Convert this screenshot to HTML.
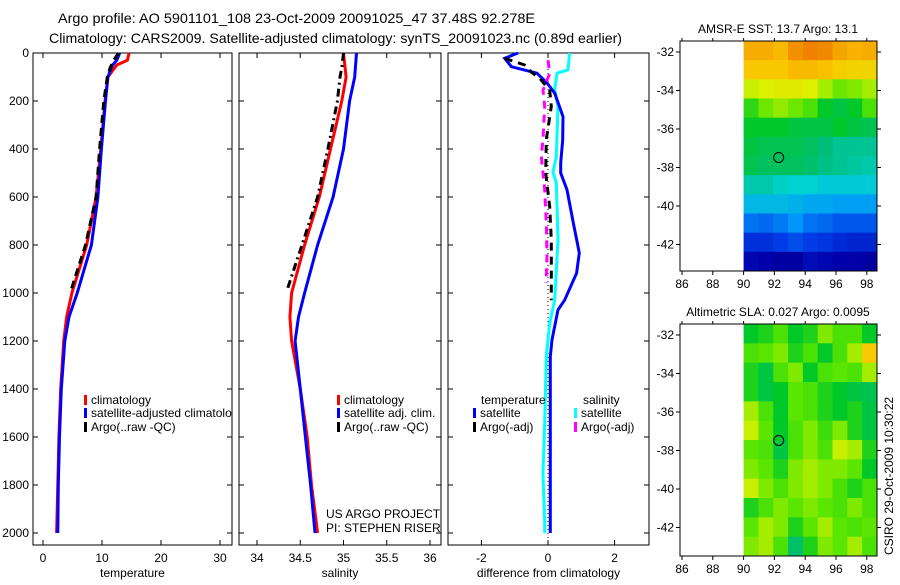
<!DOCTYPE html>
<html><head><meta charset="utf-8">
<style>
body{margin:0;background:#fff;width:900px;height:580px;overflow:hidden}
svg{font-family:"Liberation Sans",sans-serif;font-size:12px}
</style></head><body>
<svg id="fig" width="900" height="580" viewBox="0 0 900 580" xmlns="http://www.w3.org/2000/svg">
<text x="58" y="23" font-size="14" textLength="477" lengthAdjust="spacingAndGlyphs">Argo profile: AO 5901101_108 23-Oct-2009 20091025_47 37.48S 92.278E</text>
<text x="49" y="43" font-size="14" textLength="573" lengthAdjust="spacingAndGlyphs">Climatology: CARS2009. Satellite-adjusted climatology: synTS_20091023.nc (0.89d earlier)</text>
<g id="g"></g>
<text x="326" y="518">US ARGO PROJECT</text>
<text x="326" y="532">PI: STEPHEN RISER</text>
<text transform="translate(893,555) rotate(-90)">CSIRO 29-Oct-2009 10:30:22</text>
</svg>
<script>
// ---- profile data ----
const tDepth=[0,30,50,100,200,400,600,800,1000,1100,1200,1400,1600,1800,2000];
const tClim=[14.6,14.3,12.5,11.0,10.5,9.8,9.0,7.4,4.9,4.0,3.5,3.0,2.7,2.5,2.3];
const tSat=[13.0,12.5,11.8,11.0,10.6,9.9,9.3,8.2,5.8,4.4,3.7,3.1,2.8,2.6,2.5];
const tArgoDepth=[0,30,60,100,200,400,600,800,985];
const tArgo=[12.8,12.0,11.4,10.9,10.3,9.6,9.0,7.2,4.8];
const sDepth=[0,100,200,400,600,800,1000,1100,1200,1400,1600,1800,2000];
const sClim=[35.0,35.03,34.98,34.85,34.72,34.55,34.4,34.38,34.4,34.5,34.58,34.63,34.7];
const sSat=[35.15,35.13,35.07,35.0,34.88,34.7,34.55,34.48,34.44,34.5,34.56,34.62,34.67];
const sArgoDepth=[0,60,100,200,400,600,800,985];
const sArgo=[35.0,34.98,34.96,34.93,34.82,34.7,34.52,34.35];
const dTDepth=[0,22,57,84,125,167,265,362,458,500,570,708,833,917,1030,1070,1195,1265,1600,2000];
const dTSat=[-0.9,-1.3,-1.1,-0.33,-0.03,0.2,0.45,0.44,0.38,0.38,0.57,0.76,0.94,0.86,0.5,0.3,0.12,0.07,0.07,0.07];
const dSDepth=[0,70,84,154,222,433,495,542,778,1030,1125,1265,1540,1750,1960,2000];
const dSSat=[0.65,0.6,0.27,0.2,0.3,0.25,0.15,0.25,0.3,0.2,0.05,-0.05,-0.1,-0.15,-0.1,-0.1];
const dTArgoDepth=[22,50,80,105,155,222,360,500,640,780,920,1030];
const dTArgo=[-1.3,-0.7,-0.5,-0.25,0.05,0.1,-0.05,-0.07,0.05,0.1,0.1,0.1];
const dSArgoDepth=[30,85,155,222,360,430,570,708,847,958];
const dSArgo=[0,0.05,-0.15,-0.1,-0.15,-0.2,-0.1,-0.05,-0.03,-0.06];
const depthTicks=[0,200,400,600,800,1000,1200,1400,1600,1800,2000];
const tTicks=[0,10,20,30];
const sTicks=[34,34.5,35,35.5,36];
const dTicks=[-2,0,2];
// ---- map data (colormap position 0..1) ----
const lonTicks=[86,88,90,92,94,96,98];
const latTicks=[-32,-34,-36,-38,-40,-42];
const sstGrid=[
[0.74,0.74,0.72,0.78,0.80,0.79,0.75,0.73,0.74],
[0.70,0.70,0.70,0.72,0.72,0.71,0.69,0.68,0.68],
[0.62,0.63,0.64,0.64,0.63,0.60,0.57,0.58,0.60],
[0.53,0.57,0.59,0.57,0.55,0.50,0.48,0.50,0.55],
[0.50,0.50,0.50,0.48,0.48,0.48,0.50,0.48,0.47],
[0.48,0.47,0.47,0.47,0.46,0.44,0.42,0.42,0.42],
[0.47,0.46,0.46,0.46,0.45,0.43,0.42,0.41,0.40],
[0.40,0.40,0.38,0.37,0.37,0.36,0.36,0.36,0.36],
[0.34,0.34,0.34,0.33,0.32,0.32,0.31,0.31,0.31],
[0.26,0.25,0.27,0.30,0.26,0.25,0.23,0.23,0.23],
[0.18,0.18,0.20,0.22,0.20,0.19,0.17,0.16,0.16],
[0.11,0.10,0.08,0.08,0.12,0.11,0.10,0.10,0.08]];
const slaGrid=[
[0.50,0.52,0.55,0.50,0.52,0.58,0.55,0.55,0.50],
[0.55,0.56,0.58,0.52,0.55,0.50,0.55,0.60,0.70],
[0.52,0.48,0.55,0.58,0.50,0.55,0.56,0.55,0.60],
[0.52,0.48,0.50,0.56,0.55,0.52,0.50,0.48,0.47],
[0.60,0.55,0.50,0.56,0.55,0.52,0.50,0.52,0.48],
[0.62,0.56,0.50,0.55,0.58,0.54,0.58,0.52,0.48],
[0.56,0.55,0.48,0.55,0.58,0.55,0.62,0.60,0.52],
[0.58,0.56,0.52,0.58,0.60,0.58,0.58,0.56,0.50],
[0.62,0.58,0.55,0.58,0.60,0.58,0.55,0.52,0.55],
[0.52,0.55,0.58,0.56,0.58,0.56,0.55,0.58,0.55],
[0.56,0.60,0.58,0.52,0.56,0.60,0.56,0.55,0.56],
[0.58,0.60,0.55,0.45,0.52,0.58,0.56,0.60,0.55]];

const NS='http://www.w3.org/2000/svg';
const G=document.getElementById('g');
function mk(tag,attrs,parent){const e=document.createElementNS(NS,tag);for(const k in attrs)e.setAttribute(k,attrs[k]);(parent||G).appendChild(e);return e;}
const yDepth=d=>53+0.24*d;
const cmStops=[[0,0,0,120],[0.1,0,0,170],[0.2,0,60,230],[0.3,0,150,250],[0.37,0,210,210],[0.44,0,190,120],[0.5,0,200,40],[0.56,90,230,0],[0.63,220,240,0],[0.7,250,200,0],[0.8,240,130,0],[1,200,40,0]];
function cmap(v){v=Math.max(0,Math.min(1,v));
  for(let i=1;i<cmStops.length;i++){const a=cmStops[i-1],b=cmStops[i];
    if(v<=b[0]){const f=(v-a[0])/(b[0]-a[0]);return `rgb(${Math.round(a[1]+f*(b[1]-a[1]))},${Math.round(a[2]+f*(b[2]-a[2]))},${Math.round(a[3]+f*(b[3]-a[3]))})`;}}
  return 'rgb(200,40,0)';}

function panel(name,x0,x1,xs,ticks,label,yLabels){
  const r=mk('rect',{x:x0,y:53,width:x1-x0,height:492,fill:'none',stroke:'#000','stroke-width':1});
  
  
  ticks.forEach(t=>{const x=xs(t);
    const l1=mk('line',{x1:x,x2:x,y1:545,y2:540,stroke:'#000'});
    
    
    mk('line',{x1:x,x2:x,y1:53,y2:58,stroke:'#000'});
    const tx=mk('text',{x:x,y:562,'text-anchor':'middle'});tx.textContent=t;
    
    });
  depthTicks.forEach(d=>{const y=yDepth(d);
    const l=mk('line',{x1:x0,x2:x0+5,y1:y,y2:y,stroke:'#000'});
    
    
    mk('line',{x1:x1,x2:x1-5,y1:y,y2:y,stroke:'#000'});
    if(yLabels){const t=mk('text',{x:x0-4,y:y+4,'text-anchor':'end'});t.textContent=d;
      
      }});
  const lb=mk('text',{x:(x0+x1)/2,y:577,'text-anchor':'middle'});lb.textContent=label;
  
  
}
function line(name,depths,vals,xs,color,dash){
  const p=depths.map((d,i)=>(i?'L':'M')+xs(vals[i]).toFixed(1)+','+yDepth(d).toFixed(1)).join('');
  const a={d:p,fill:'none',stroke:color,'stroke-width':3};if(dash)a['stroke-dasharray']=dash;
  const e=mk('path',a);
  
  
}
function legend(name,x,y,color,text){
  const r=mk('rect',{x:x,y:y-9,width:3,height:10,fill:color});
  
  
  const t=mk('text',{x:x+7,y:y});t.textContent=text;
  
  
}
// panel 1 temperature
const xT=v=>43+5.9*v;
panel('temperature-panel',33,232,xT,tTicks,'temperature',true);
line('temp-climatology-line',tDepth,tClim,xT,'#f00');
line('temp-satellite-line',tDepth,tSat,xT,'#00f');
line('temp-argo-line',tArgoDepth,tArgo,xT,'#000','8,5');
legend('legend-climatology',84,404,'#f00','climatology');
legend('legend-satellite-adjusted',84,417,'#00f','satellite-adjusted climatolo');
legend('legend-argo-raw',84,431,'#000','Argo(..raw -QC)');
// panel 2 salinity
const xS=v=>257+86.5*(v-34);
panel('salinity-panel',239,441,xS,sTicks,'salinity',false);
line('sal-climatology-line',sDepth,sClim,xS,'#f00');
line('sal-satellite-line',sDepth,sSat,xS,'#00f');
line('sal-argo-line',sArgoDepth,sArgo,xS,'#000','8,4,2,4');
legend('legend-sal-climatology',337,404,'#f00','climatology');
legend('legend-sal-satellite',337,417,'#00f','satellite adj. clim.');
legend('legend-sal-argo',337,431,'#000','Argo(..raw -QC)');
// panel 3 differences
const xD=v=>548+33.3*v;
panel('difference-panel',448,649,xD,dTicks,'difference from climatology',false);
const z=mk('line',{x1:xD(0),x2:xD(0),y1:53,y2:545,stroke:'#000','stroke-dasharray':'1,3'});


line('diff-sal-satellite-line',dSDepth,dSSat,xD,'#0ff');
line('diff-temp-satellite-line',dTDepth,dTSat,xD,'#00f');
line('diff-temp-argo-line',dTArgoDepth,dTArgo,xD,'#000','8,6');
line('diff-sal-argo-line',dSArgoDepth,dSArgo,xD,'#f0f','8,6');
const th=mk('text',{x:481,y:404});th.textContent='temperature';


const sh=mk('text',{x:583,y:404});sh.textContent='salinity';


legend('legend-diff-temp-satellite',473,417,'#00f','satellite');
legend('legend-diff-temp-argo',473,431,'#000','Argo(-adj)');
legend('legend-diff-sal-satellite',574,417,'#0ff','satellite');
legend('legend-diff-sal-argo',574,431,'#f0f','Argo(-adj)');

// maps
function map(name,top,bottom,lat32y,grid,title){
  const xs=l=>682+15.4*(l-86), ys=l=>lat32y+19.25*(-32-l);
  const rows=grid.length, cols=grid[0].length, x0=xs(90), x1=877, cw=(x1-x0)/cols, ch=(bottom-top)/rows;
  grid.forEach((row,i)=>row.forEach((v,j)=>{
    const c=mk('rect',{x:(x0+j*cw).toFixed(2),y:(top+i*ch).toFixed(2),width:(cw+0.5).toFixed(2),height:(ch+0.5).toFixed(2),fill:cmap(v)});
    
    }));
  const f=mk('rect',{x:680,y:top,width:197,height:bottom-top,fill:'none',stroke:'#000'});
  
  
  lonTicks.forEach(l=>{const x=xs(l);mk('line',{x1:x,x2:x,y1:bottom,y2:bottom+4,stroke:'#000'});mk('line',{x1:x,x2:x,y1:top,y2:top-3,stroke:'#000'});
    const t=mk('text',{x:x,y:bottom+17,'text-anchor':'middle'});t.textContent=l;
    
    });
  latTicks.forEach(l=>{const y=ys(l);mk('line',{x1:680,x2:676,y1:y,y2:y,stroke:'#000'});mk('line',{x1:877,x2:881,y1:y,y2:y,stroke:'#000'});
    const t=mk('text',{x:674,y:y+4,'text-anchor':'end'});t.textContent=l;
    
    });
  const c=mk('circle',{cx:xs(92.278),cy:ys(-37.48),r:5,fill:'none',stroke:'#000'});
  
  
  const t=mk('text',{x:778,y:top-8,'text-anchor':'middle'});t.textContent=title;
  
  
}
map('sst-map',41,271,52,sstGrid,'AMSR-E SST: 13.7 Argo: 13.1');
map('sla-map',324,556,335,slaGrid,'Altimetric SLA: 0.027 Argo: 0.0095');
</script>
</body></html>
